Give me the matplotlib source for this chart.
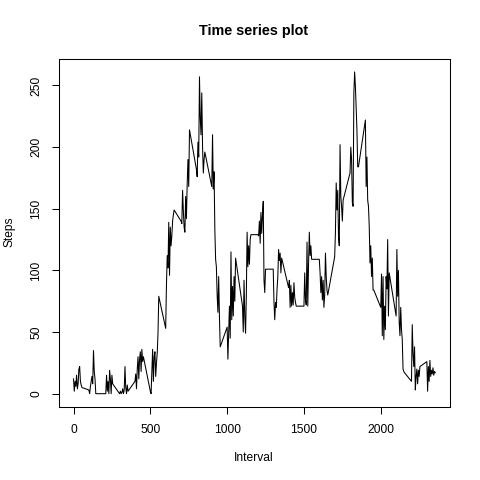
import matplotlib
matplotlib.use('Agg')
import matplotlib.pyplot as plt

# Intervalos de 5 minutos en formato HHMM (0, 5, ..., 55, 100, 105, ...)
hours = list(range(24))
minutes = [0, 5, 10, 15, 20, 25, 30, 35, 40, 45, 50, 55]
interval = [h * 100 + m for h in hours for m in minutes]

# Pasos promedio por intervalo, una fila por hora
steps = [
    12, 2, 10, 6, 15, 4, 8, 20, 22, 10, 7, 5,            # 00
    3, 0, 6, 10, 14, 8, 35, 18, 12, 0, 0, 0,             # 01
    0, 0, 0, 15, 2, 10, 0, 19, 12, 0, 15, 8,             # 02
    0, 2, 0, 1, 4, 0, 3, 22, 5, 0, 7, 2,                 # 03
    10, 16, 4, 20, 30, 12, 28, 34, 18, 36, 26, 30,       # 04
    2, 0, 18, 36, 10, 30, 34, 14, 25, 33, 49, 79,        # 05
    53, 88, 112, 102, 139, 96, 135, 120, 128, 140, 145, 149,   # 06
    140, 138, 165, 148, 135, 131, 160, 142, 170, 190, 168, 214,  # 07
    182, 176, 204, 192, 257, 224, 210, 244, 200, 179, 190, 196,  # 08
    168, 210, 166, 180, 133, 109, 103, 80, 66, 95, 62, 38,     # 09
    54, 28, 50, 71, 45, 115, 60, 87, 63, 95, 75, 110,          # 10
    71, 50, 92, 62, 49, 80, 131, 103, 120, 105, 125, 129,      # 11
    129, 128, 140, 122, 147, 130, 145, 156, 92, 82, 101, 101,  # 12
    101, 74, 60, 74, 70, 85, 95, 117, 108, 114, 98, 110,       # 13
    86, 92, 70, 88, 71, 82, 72, 90, 78, 74, 71, 71,            # 14
    71, 98, 76, 72, 123, 71, 105, 131, 112, 120, 109, 109,     # 15
    109, 98, 82, 95, 76, 92, 70, 80, 114, 95, 84, 80,          # 16
    111, 131, 171, 149, 165, 127, 120, 202, 160, 152, 140, 157,  # 17
    179, 200, 190, 155, 152, 244, 261, 249, 231, 214, 184, 184,  # 18
    222, 168, 192, 157, 152, 136, 106, 120, 95, 110, 84, 84,   # 19
    70, 97, 47, 95, 44, 71, 52, 95, 85, 125, 63, 98,           # 20
    63, 117, 79, 100, 58, 47, 70, 52, 44, 20, 18, 17,          # 21
    10, 56, 33, 22, 38, 3, 14, 20, 8, 19, 14, 22,              # 22
    26, 2, 22, 10, 27, 14, 19, 16, 21, 15, 18, 17,             # 23
]

x_ticks = [0, 500, 1000, 1500, 2000]
y_ticks = [0, 50, 100, 150, 200, 250]

plt.rcParams['font.family'] = ['Liberation Sans', 'DejaVu Sans']

fig = plt.figure(figsize=(4.8, 4.8), dpi=100)
# Region del grafico como en R (mar = c(5, 4, 4, 2) + 0.1)
ax = fig.add_axes([59.04 / 480, 73.44 / 480, 390.72 / 480, 347.52 / 480])

ax.plot(interval, steps, color='black', linewidth=0.75)
ax.margins(x=0.04, y=0.04)

ax.set_xticks(x_ticks)
ax.set_yticks(y_ticks)
ax.set_yticklabels([str(v) for v in y_ticks], rotation=90, va='center')
ax.tick_params(direction='out', length=5.2, width=0.75, pad=7,
               labelsize=8.64, colors='black')

for s in ax.spines.values():
    s.set_linewidth(0.75)
    s.set_color('black')

# Titulo y etiquetas de ejes
fig.text(254 / 480, 1 - 31 / 480, 'Time series plot', ha='center', va='center',
         fontsize=10.4, fontweight='bold')
fig.text(254 / 480, 1 - 458 / 480, 'Interval', ha='center', va='center',
         fontsize=8.64)
fig.text(10 / 480, 1 - 232 / 480, 'Steps', ha='center', va='center',
         fontsize=8.64, rotation=90)

plt.savefig('out.png', dpi=100)
